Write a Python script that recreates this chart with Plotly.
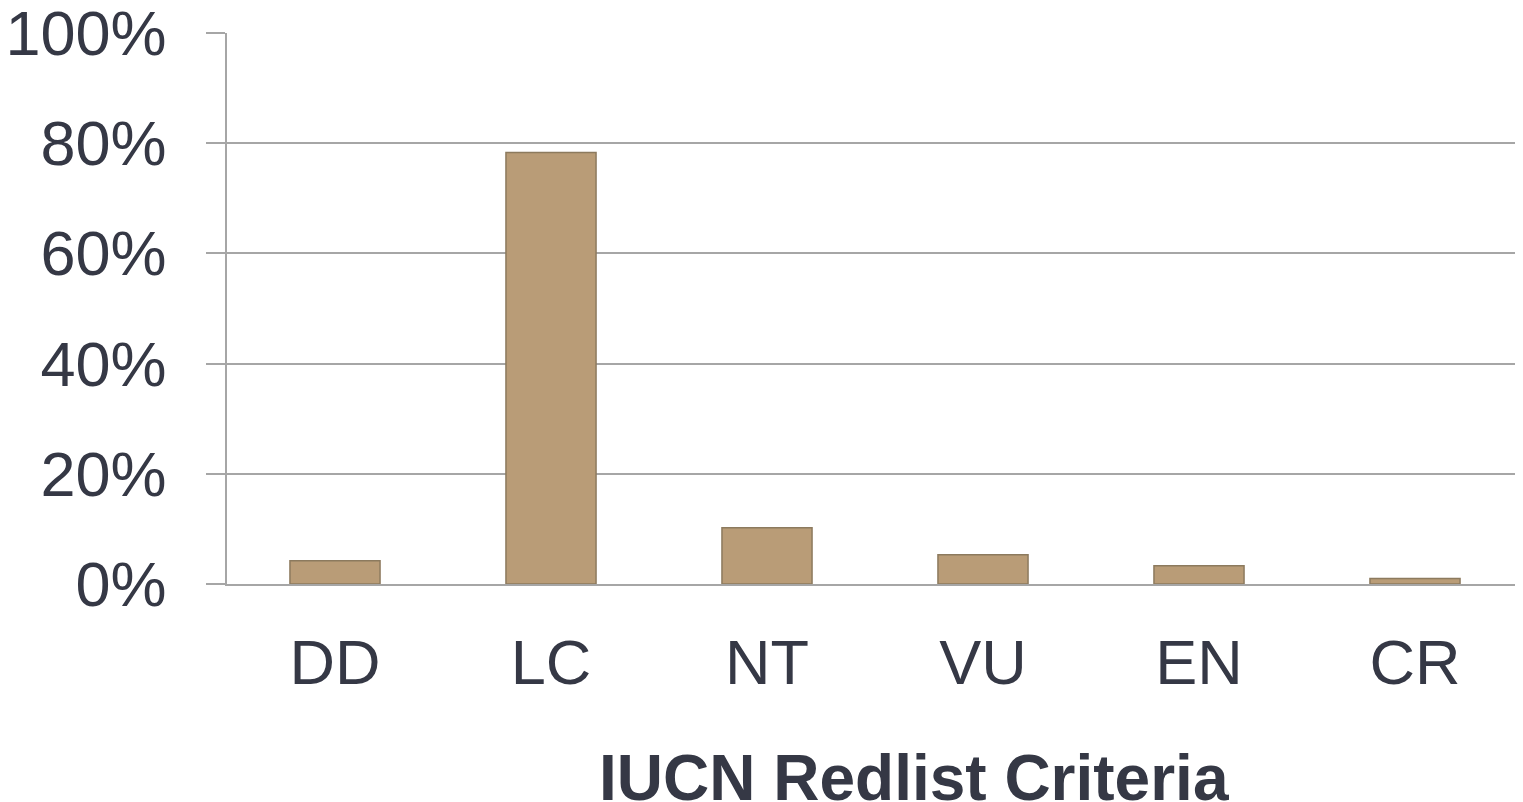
import plotly.graph_objects as go

categories = ["DD", "LC", "NT", "VU", "EN", "CR"]
values = [4.2, 78.3, 10.2, 5.3, 3.3, 1.0]
y_ticks = [0, 20, 40, 60, 80, 100]
y_tick_labels = ["0%", "20%", "40%", "60%", "80%", "100%"]
x_title = "IUCN Redlist Criteria"

text_color = "#353845"
grid_color = "#a6a6a6"
font_family = "Liberation Sans, Arial, sans-serif"

fig = go.Figure()
fig.add_trace(go.Bar(
    x=categories,
    y=values,
    width=0.417,
    marker=dict(color="#b99c77", line=dict(color="#8c7a5e", width=1.5)),
    hoverinfo="x+y",
))

# page body has an 8px default margin; size the figure so the plot lands where the reference has it
fig.update_layout(
    width=1515,
    height=794,
    margin=dict(l=219, r=0, t=25, b=218, autoexpand=False),
    paper_bgcolor="white",
    plot_bgcolor="white",
    showlegend=False,
    font=dict(family=font_family, color=text_color, size=63),
)

fig.update_yaxes(
    range=[0, 100],
    tickmode="array",
    tickvals=y_ticks,
    ticktext=y_tick_labels,
    showgrid=True,
    gridcolor=grid_color,
    gridwidth=1.5,
    showline=True,
    linecolor=grid_color,
    linewidth=1.5,
    ticks="outside",
    ticklen=19,
    tickcolor=grid_color,
    tickwidth=1.5,
    ticklabelstandoff=27,
    ticklabeloverflow="allow",
    tickfont=dict(size=63, color=text_color),
    zeroline=False,
    automargin=False,
    fixedrange=True,
)

fig.update_xaxes(
    showline=True,
    linecolor=grid_color,
    linewidth=1.5,
    ticks="",
    ticklabelstandoff=23,
    ticklabeloverflow="allow",
    tickfont=dict(size=63, color=text_color),
    automargin=False,
    fixedrange=True,
)

fig.add_annotation(
    text="<b>" + x_title + "</b>",
    xref="paper", yref="paper",
    x=0.530, y=-0.3525,
    xanchor="center", yanchor="middle",
    showarrow=False,
    font=dict(size=64, color=text_color, family=font_family),
)

fig.write_html("out.html")
